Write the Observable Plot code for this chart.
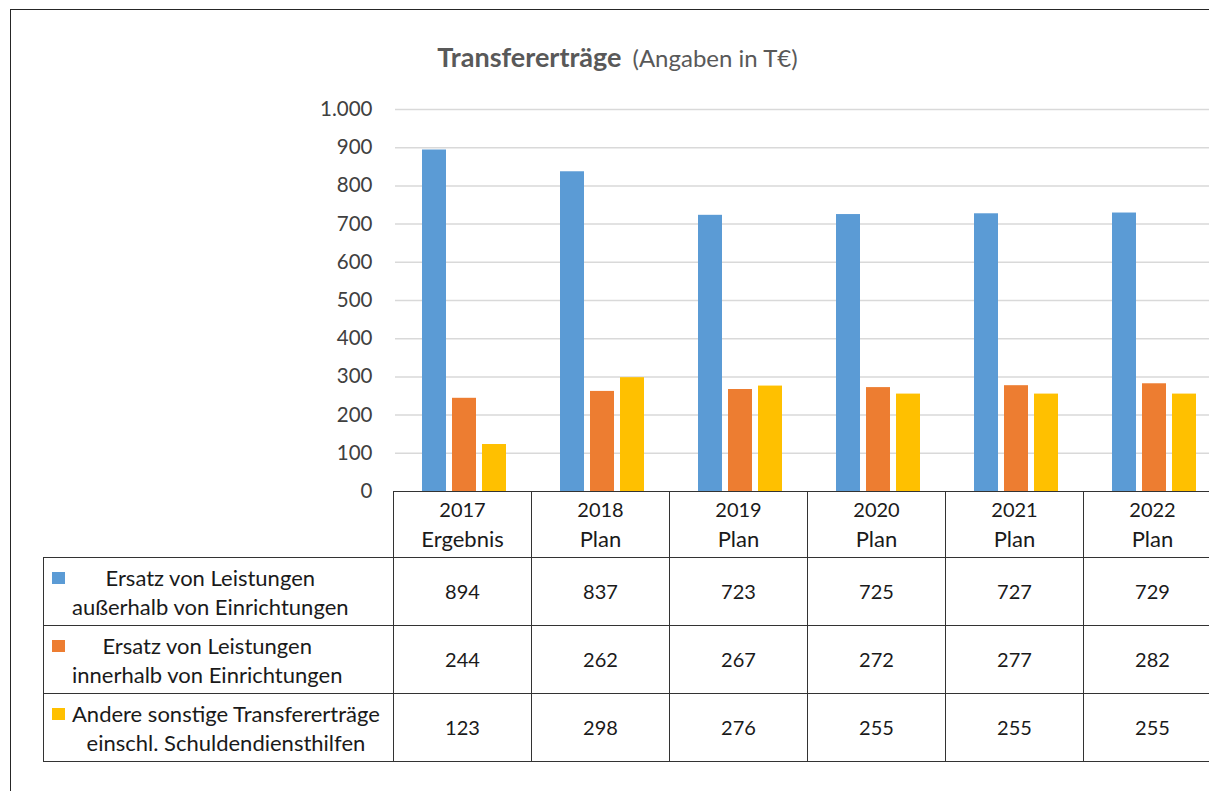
<!DOCTYPE html>
<html><head><meta charset="utf-8">
<script src="https://cdn.jsdelivr.net/npm/d3@7"></script>
<script src="https://cdn.jsdelivr.net/npm/@observablehq/plot@0.6"></script>
<style>
html,body{margin:0;padding:0;overflow:hidden;background:#fff;}
#chart{position:relative;width:1209px;height:791px;overflow:hidden;font-family:Lato,"Noto Sans",sans-serif;}
#frame{position:absolute;left:10px;top:9px;width:1400px;height:1000px;border:1.5px solid #262626;box-sizing:border-box;}
#title{position:absolute;left:11px;width:1213px;top:41px;text-align:center;color:#595959;font-size:24px;line-height:32px;white-space:nowrap;}
#title b{font-weight:700;font-size:27px;margin-right:11px;}
#plot{position:absolute;left:0;top:0;max-width:none;}
#tbl{position:absolute;left:43px;top:491px;border-collapse:collapse;table-layout:fixed;font-size:20px;color:#1a1a1a;}
#tbl td{border:1px solid #333;padding:0;text-align:center;vertical-align:middle;line-height:29px;}
#tbl td.blank{border-top:none;border-left:none;}
#tbl td.lab{text-align:left;padding-left:8px;}
.w{font-size:22px;}
.lg{display:flex;align-items:flex-start;}
.key{width:13px;height:12px;margin-top:9px;margin-right:7px;flex:none;}
.lt{text-align:center;font-size:22px;}
</style>
</head><body>
<div id="chart">
  <div id="frame"></div>
  <div id="title"><b>Transfererträge</b>(Angaben in T€)</div>
</div>
<script>
// ---- data ----
const years = ["2017", "2018", "2019", "2020", "2021", "2022"];
const kinds = ["Ergebnis", "Plan", "Plan", "Plan", "Plan", "Plan"];
const seriesNames = [
  "Ersatz von Leistungen außerhalb von Einrichtungen",
  "Ersatz von Leistungen innerhalb von Einrichtungen",
  "Andere sonstige Transfererträge einschl. Schuldendiensthilfen"
];
const seriesLines = [
  ["Ersatz von Leistungen", "außerhalb von Einrichtungen"],
  ["Ersatz von Leistungen", "innerhalb von Einrichtungen"],
  ["Andere sonstige Transfererträge", "einschl. Schuldendiensthilfen"]
];
const valuesAusserhalb = [894, 837, 723, 725, 727, 729];
const valuesInnerhalb = [244, 262, 267, 272, 277, 282];
const valuesAndere = [123, 298, 276, 255, 255, 255];
const colors = ["#5b9bd5", "#ed7d31", "#ffc000"];
const yTicks = [0, 100, 200, 300, 400, 500, 600, 700, 800, 900, 1000];

const seriesValues = [valuesAusserhalb, valuesInnerhalb, valuesAndere];
const data = [];
years.forEach((y, i) => seriesNames.forEach((s, j) => data.push({year: y, series: s, value: seriesValues[j][i]})));

const de = d3.formatLocale({decimal: ",", thousands: ".", grouping: [3], currency: ["", " €"]});
const fmt = de.format(",");

const plot = Plot.plot({
  width: 1224,
  height: 791,
  marginLeft: 393,
  marginRight: 0,
  marginTop: 109,
  marginBottom: 300,
  style: {background: "transparent", fontFamily: "Lato, 'Noto Sans', sans-serif", fontSize: "20px", color: "#404040", maxWidth: "none"},
  fx: {domain: years, padding: 0, axis: null},
  x: {domain: seriesNames, paddingInner: 0.21, paddingOuter: 0.875, axis: null},
  y: {domain: [0, 1000], axis: null},
  color: {domain: seriesNames, range: colors},
  marks: [
    Plot.ruleY(yTicks.filter(d => d > 0), {stroke: "#d9d9d9", strokeWidth: 1.5}),
    Plot.barY(data, {fx: "year", x: "series", y: "value", fill: "series"}),
    Plot.axisY({ticks: yTicks, tickSize: 0, tickPadding: 23, tickFormat: fmt, fontSize: 20.5, fill: "#404040", label: null, facetAnchor: "left"})
  ]
});
plot.id = "plot";
const chart = document.getElementById("chart");
chart.appendChild(plot);

// data table below the plot, aligned with the fx scale
const fxs = plot.scale("fx");
const colW = fxs.bandwidth;
const left0 = fxs.range[0];
const tbl = document.createElement("table");
tbl.id = "tbl";
const cg = document.createElement("colgroup");
const c0 = document.createElement("col"); c0.style.width = (left0 - 43) + "px"; cg.appendChild(c0);
years.forEach(() => { const c = document.createElement("col"); c.style.width = colW + "px"; cg.appendChild(c); });
tbl.appendChild(cg);
tbl.style.width = (left0 - 43 + colW * years.length) + "px";

const hr = document.createElement("tr"); hr.style.height = "66px";
const hb = document.createElement("td"); hb.className = "blank"; hr.appendChild(hb);
years.forEach((y, i) => { const td = document.createElement("td"); td.innerHTML = y + "<br><span class='w'>" + kinds[i] + "</span>"; hr.appendChild(td); });
tbl.appendChild(hr);

seriesNames.forEach((s, j) => {
  const tr = document.createElement("tr"); tr.style.height = "68px";
  const lab = document.createElement("td"); lab.className = "lab";
  const lg = document.createElement("div"); lg.className = "lg";
  const key = document.createElement("div"); key.className = "key"; key.style.background = plot.scale("color").apply(s);
  const lt = document.createElement("div"); lt.className = "lt"; lt.innerHTML = seriesLines[j].join("<br>");
  lg.appendChild(key); lg.appendChild(lt); lab.appendChild(lg); tr.appendChild(lab);
  seriesValues[j].forEach(v => { const td = document.createElement("td"); td.textContent = fmt(v); tr.appendChild(td); });
  tbl.appendChild(tr);
});
chart.appendChild(tbl);
</script>
</body></html>
